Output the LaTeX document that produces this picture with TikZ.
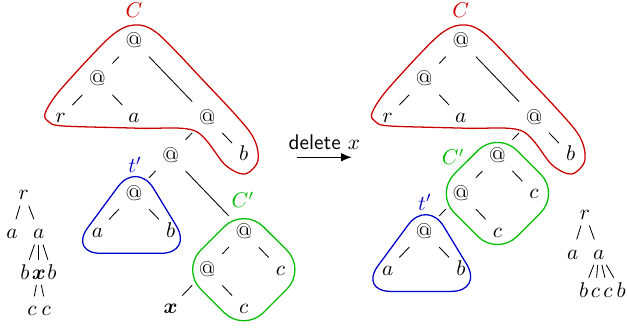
\documentclass[tikz,border=0pt]{standalone}
\usepackage{amsmath}
\usepackage{tikz}
\usetikzlibrary{arrows,arrows.meta,calc}
\definecolor{ctx_red}{RGB}{204, 0, 0}
\definecolor{ctx_blue}{RGB}{0, 0, 204}
\definecolor{ctx_green}{RGB}{0, 190, 0}
\tikzstyle{an}=[circle,inner sep=0pt,minimum size=20pt,text height=1.5ex,text depth=0pt]
\tikzstyle{ln}=[circle,inner sep=0pt,minimum size=15.5pt,text height=1.2ex,text depth=0pt]
\tikzstyle{sn}=[inner sep=2.5pt,text height=1.5ex,text depth=0pt]
\tikzstyle{none}=[]
\tikzstyle{redline}=[draw=ctx_red,line width=0.6pt]
\tikzstyle{blueline}=[draw=ctx_blue,line width=0.6pt,rounded corners=15pt]
\tikzstyle{greenline}=[draw=ctx_green,line width=0.6pt,rounded corners=13pt]
\newcommand{\bx}{\(\boldsymbol{x}\)}

\begin{document}
\begin{tikzpicture}[x=0.605cm,y=0.63cm]
            \useasboundingbox (-3.661, 1.076) rectangle (13.47, -7.533);
            % before
            \node [style=an] (0) at (0, 0) {@};
            \node [style=an] (1) at (-1, -1) {@};
            \node [style=ln] (2) at (-2, -2) {\(r\)};
            \node [style=ln] (3) at (0, -2) {\(a\)};
            \node [style=an] (4) at (2, -2) {@};
            \node [style=an] (5) at (1, -3) {@};
            \node [style=ln] (6) at (3, -3) {\(b\)};
            \node [style=an] (7) at (0, -4) {@};
            \node [style=ln] (8) at (-1, -5) {\(a\)};
            \node [style=ln] (9) at (1, -5) {\(b\)};
            \node [style=an] (10) at (3, -5) {@};
            \node [style=an] (11) at (2, -6) {@};
            \node [style=ln] (12) at (4, -6) {\(c\)};
            \node [style=ln] (13) at (1, -7) {\bx};
            \node [style=ln] (14) at (3, -7) {\(c\)};
            \draw (0) to (1);
            \draw (0) to (4);
            \draw (1) to (2);
            \draw (1) to (3);
            \draw (4) to (5);
            \draw (4) to (6);
            \draw (5) to (7);
            \draw (5) to (10);
            \draw (7) to (8);
            \draw (7) to (9);
            \draw (10) to (11);
            \draw (10) to (12);
            \draw (11) to (13);
            \draw (11) to (14);
            % after
            \node [style=an] (20) at (8.93, 0) {@};
            \node [style=an] (21) at (7.93, -1) {@};
            \node [style=ln] (22) at (6.93, -2) {\(r\)};
            \node [style=ln] (23) at (8.93, -2) {\(a\)};
            \node [style=an] (24) at (10.93, -2) {@};
            \node [style=ln] (25) at (11.93, -3) {\(b\)};
            \node [style=an] (26) at (9.93, -3) {@};
            \node [style=an] (27) at (8.93, -4) {@};
            \node [style=ln] (28) at (10.93, -4) {\(c\)};
            \node [style=ln] (29) at (9.93, -5) {\(c\)};
            \node [style=an] (30) at (7.93, -5) {@};
            \node [style=ln] (31) at (6.93, -6) {\(a\)};
            \node [style=ln] (32) at (8.93, -6) {\(b\)};
            \draw (20) to (21);
            \draw (20) to (24);
            \draw (21) to (22);
            \draw (21) to (23);
            \draw (24) to (26);
            \draw (24) to (25);
            \draw (26) to (27);
            \draw (26) to (28);
            \draw (27) to (30);
            \draw (27) to (29);
            \draw (30) to (31);
            \draw (30) to (32);
            % small trees
            \node [style=sn] (40) at (-3.01, -3.99) {\(r\)};
            \node [style=sn] (41) at (-3.33, -5.01) {\(a\)};
            \node [style=sn] (42) at (-2.6, -5.01) {\(a\)};
            \node [style=sn] (43) at (-2.98, -6.07) {\(b\)};
            \node [style=sn] (44) at (-2.6, -6.07) {\bx};
            \node [style=sn] (45) at (-2.24, -6.07) {\(b\)};
            \node [style=sn] (46) at (-2.79, -7.03) {\(c\)};
            \node [style=sn] (47) at (-2.4, -7.03) {\(c\)};
            \draw (40) to (41);
            \draw (40) to (42);
            \draw (42) to (43);
            \draw (42) to (44);
            \draw (42) to (45);
            \draw (44) to (46);
            \draw (44) to (47);
            \node [style=sn] (60) at (12.32, -4.51) {\(r\)};
            \node [style=sn] (61) at (11.99, -5.54) {\(a\)};
            \node [style=sn] (62) at (12.7, -5.54) {\(a\)};
            \node [style=sn] (63) at (12.29, -6.54) {\(b\)};
            \node [style=sn] (64) at (12.61, -6.54) {\(c\)};
            \node [style=sn] (65) at (12.95, -6.54) {\(c\)};
            \node [style=sn] (66) at (13.31, -6.54) {\(b\)};
            \draw (60) to (61);
            \draw (60) to (62);
            \draw (62) to (63);
            \draw (62) to (64);
            \draw (62) to (65);
            \draw (62) to (66);
            % arrow
            \coordinate (50) at (4.45, -3.05);
            \coordinate (51) at (5.95, -3.05);
            \draw [-{Latex[length=5pt,width=4pt]}, line width=0.6pt] (50) to node [above] {\textsf{delete} \(x\)} (51);
            % contexts
            \foreach \dx in {0, 8.93} {
                \draw [style=redline, shift={(\dx, 0)}] plot [smooth cycle] coordinates
                    {(0, 0.42) (0.63, 0.21) (1.8, -0.94) (3.17, -2.39) (3.39, -3.12) (3.03, -3.49)
                     (2.49, -3.25) (1.67, -2.36) (0.16, -2.29) (-1.94, -2.23) (-2.33, -2.12)
                     (-2.43, -1.9) (-2.02, -1.29) (-0.66, 0.1)};
                \node [text=ctx_red] at (\dx, 0.81) {\(C\)};
            }
            \draw [style=blueline] (0.08, -3.15) -- (-1.78, -5.57) -- (1.61, -5.57) -- cycle;
            \draw [style=blueline] (8.01, -4.15) -- (6.15, -6.57) -- (9.54, -6.57) -- cycle;
            \draw [style=greenline] (3, -4.36) -- (1.29, -6) -- (3, -7.64) -- (4.71, -6) -- cycle;
            \draw [style=greenline] (9.93, -2.36) -- (8.22, -4) -- (9.93, -5.64) -- (11.64, -4) -- cycle;
            \node [text=ctx_blue] (70) at (0.03, -3.25) {\(t'\)};
            \node [text=ctx_blue] (71) at (7.95, -4.23) {\(t'\)};
            \node [text=ctx_green] (72) at (2.98, -4.17) {\(C'\)};
            \node [text=ctx_green] (73) at (8.72, -3.04) {\(C'\)};
    \end{tikzpicture}
\end{document}
